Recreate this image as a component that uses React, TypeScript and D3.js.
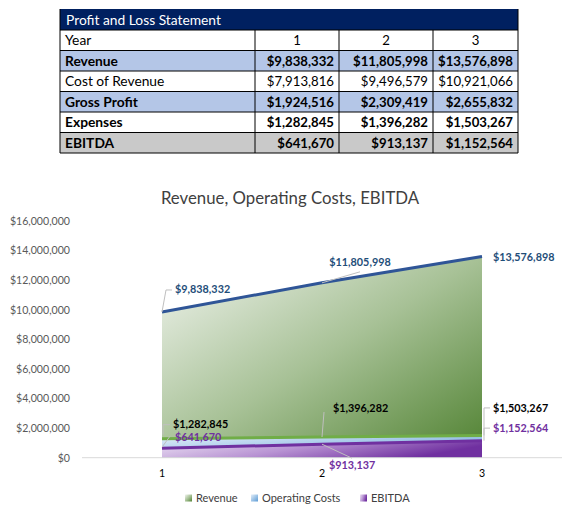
import { useMemo } from 'react';
import * as d3 from 'd3';

// table data
const years = ['1', '2', '3'];
const revenue = [9838332, 11805998, 13576898];
const costOfRevenue = [7913816, 9496579, 10921066];
const grossProfit = [1924516, 2309419, 2655832];
const expenses = [1282845, 1396282, 1503267];
const ebitda = [641670, 913137, 1152564];

const yTicks = [0, 2e6, 4e6, 6e6, 8e6, 10e6, 12e6, 14e6, 16e6];
const seriesNames = ['Revenue', 'Operating Costs', 'EBITDA'];

const FONT = 'Lato, "DejaVu Sans", sans-serif';
const money = (v: number) => '$' + d3.format(',')(v);

type Row = { label: string; values: string[]; fill: string; bold: boolean; center?: boolean };

const rows: Row[] = [
  { label: 'Year', values: years, fill: '#ffffff', bold: false, center: true },
  { label: 'Revenue', values: revenue.map(money), fill: '#b4c6e7', bold: true },
  { label: 'Cost of Revenue', values: costOfRevenue.map(money), fill: '#ffffff', bold: false },
  { label: 'Gross Profit', values: grossProfit.map(money), fill: '#b4c6e7', bold: true },
  { label: 'Expenses', values: expenses.map(money), fill: '#ffffff', bold: true },
  { label: 'EBITDA', values: ebitda.map(money), fill: '#c9c9c9', bold: true },
];

const PLTable = () => {
  const colX = [60, 255, 339, 433, 518];
  const top = 9;
  const titleH = 21;
  const rowH = 20.5;
  return (
    <g fontFamily={FONT} fontSize={13.2}>
      <rect x={colX[0]} y={top} width={colX[4] - colX[0]} height={titleH} fill="#002060" />
      <text x={colX[0] + 6} y={top + 15.5} fill="#ffffff" fontSize={13.8}>
        Profit and Loss Statement
      </text>
      {rows.map((r, i) => {
        const y0 = top + titleH + i * rowH;
        return (
          <g key={r.label}>
            <rect x={colX[0]} y={y0} width={colX[4] - colX[0]} height={rowH} fill={r.fill} />
            <text x={colX[0] + 5} y={y0 + 15.3} fontWeight={r.bold ? 700 : 400} fill="#000" fontSize={13.8}>
              {r.label}
            </text>
            {r.values.map((v, j) => (
              <text
                key={j}
                x={r.center ? (colX[j + 1] + colX[j + 2]) / 2 : colX[j + 2] - 5}
                y={y0 + 15.3}
                textAnchor={r.center ? 'middle' : 'end'}
                fontWeight={r.bold ? 700 : 400}
                fill="#000"
              >
                {v}
              </text>
            ))}
            <line x1={colX[0]} x2={colX[4]} y1={y0} y2={y0} stroke="#000" strokeWidth={1} />
          </g>
        );
      })}
      {colX.map((cx, i) => (
        <line
          key={i}
          x1={cx}
          x2={cx}
          y1={i === 0 || i === 4 ? top : top + titleH}
          y2={top + titleH + rows.length * rowH}
          stroke="#000"
          strokeWidth={1}
        />
      ))}
      <line
        x1={colX[0]}
        x2={colX[4]}
        y1={top + titleH + rows.length * rowH}
        y2={top + titleH + rows.length * rowH}
        stroke="#000"
      />
    </g>
  );
};

const Chart = () => {
  const x = useMemo(() => d3.scaleBand().domain(years).range([82, 562]), []);
  const y = useMemo(() => d3.scaleLinear().domain([0, 16e6]).range([457.7, 220.7]), []);
  const px = (i: number) => (x(years[i]) as number) + x.bandwidth() / 2;

  const area = d3
    .area<number>()
    .x((_, i) => px(i))
    .y0(y(0))
    .y1((d) => y(d));
  const line = d3
    .line<number>()
    .x((_, i) => px(i))
    .y((d) => y(d));

  // label placement relative to each point, with leader line points
  const revLabels = revenue.map((v, i) => {
    const X = px(i);
    const Y = y(v);
    if (i === 0)
      return { tx: X + 13, ty: Y - 19, anchor: 'start', leader: [[X, Y], [X + 4, Y - 22], [X + 10, Y - 22]] };
    if (i === 1)
      return { tx: X + 38, ty: Y - 17, anchor: 'middle', leader: [[X, Y], [X + 38, Y - 11]] };
    return { tx: X + 11, ty: Y + 4, anchor: 'start', leader: null };
  });
  const expLabels = expenses.map((v, i) => {
    const X = px(i);
    const Y = y(v);
    if (i === 0)
      return { tx: X + 11, ty: Y - 10.5, anchor: 'start', leader: [[X + 1, Y - 4], [X + 1, Y - 14], [X + 8, Y - 14]] };
    if (i === 1)
      return { tx: X + 11, ty: Y - 25, anchor: 'start', leader: [[X, Y], [X + 2, Y - 25]] };
    return { tx: X + 11, ty: Y - 23.5, anchor: 'start', leader: [[X + 2, Y], [X + 2, Y - 27.5], [X + 8, Y - 27.5]] };
  });
  const ebLabels = ebitda.map((v, i) => {
    const X = px(i);
    const Y = y(v);
    if (i === 0)
      return { tx: X + 13, ty: Y - 7.5, anchor: 'start', leader: [[X, Y - 1], [X + 8, Y - 12]] };
    if (i === 1)
      return { tx: X + 7, ty: Y + 25, anchor: 'start', leader: [[X, Y], [X + 30, Y + 14]] };
    return { tx: X + 11, ty: Y - 8.5, anchor: 'start', leader: [[X + 2, Y], [X + 2, Y - 12.5], [X + 8, Y - 12.5]] };
  });

  const leaderPath = d3.line();

  const labelGroup = (labels: typeof revLabels, values: number[], color: string) =>
    labels.map((l, i) => (
      <g key={i}>
        {l.leader && (
          <path d={leaderPath(l.leader as [number, number][])!} fill="none" stroke="#bfbfbf" strokeWidth={1} />
        )}
        <text
          x={l.tx}
          y={l.ty}
          textAnchor={l.anchor as 'start' | 'middle'}
          fontWeight={700}
          fontSize={10.8}
          fill={color}
        >
          {money(values[i])}
        </text>
      </g>
    ));

  const legendX = [185, 251, 360];
  const legendFills = ['url(#gRev)', 'url(#gOp)', 'url(#gEb)'];

  return (
    <g fontFamily={FONT}>
      <defs>
        <linearGradient id="gRev" x1="0" y1="0" x2="1" y2="1">
          <stop offset="0" stopColor="#f2f5f0" />
          <stop offset="0.5" stopColor="#a7c196" />
          <stop offset="1" stopColor="#4f8130" />
        </linearGradient>
        <linearGradient id="gOp" x1="0" y1="0" x2="1" y2="1">
          <stop offset="0" stopColor="#e3eef9" />
          <stop offset="1" stopColor="#5b9bd5" />
        </linearGradient>
        <linearGradient id="gEb" x1="0" y1="0" x2="1" y2="0.3">
          <stop offset="0" stopColor="#ece3f4" />
          <stop offset="0.5" stopColor="#b893d3" />
          <stop offset="1" stopColor="#7030a0" />
        </linearGradient>
      </defs>

      <text x={290} y={204} textAnchor="middle" fontSize={16.8} fill="#404040">
        Revenue, Operating Costs, EBITDA
      </text>

      {yTicks.map((t) => (
        <text key={t} x={70} y={y(t) + 4} textAnchor="end" fontSize={10.6} fill="#595959">
          {money(t)}
        </text>
      ))}

      <path d={area(revenue)!} fill="url(#gRev)" />
      <path d={area(expenses)!} fill="url(#gOp)" />
      <path d={area(ebitda)!} fill="url(#gEb)" />

      <line x1={82} x2={562} y1={y(0)} y2={y(0)} stroke="#d9d9d9" strokeWidth={1} />
      {years.map((yr, i) => (
        <text key={yr} x={px(i)} y={477} textAnchor="middle" fontSize={10.6} fill="#000">
          {yr}
        </text>
      ))}

      <path d={line(revenue)!} fill="none" stroke="#2f5597" strokeWidth={3} />
      <path d={line(expenses)!} fill="none" stroke="#70ad47" strokeWidth={3} />
      <path d={line(ebitda)!} fill="none" stroke="#7030a0" strokeWidth={3} />

      {labelGroup(revLabels, revenue, '#1f4e79')}
      {labelGroup(expLabels, expenses, '#000000')}
      {labelGroup(ebLabels, ebitda, '#7030a0')}

      {seriesNames.map((s, i) => (
        <g key={s}>
          <rect x={legendX[i]} y={494.5} width={7} height={7} fill={legendFills[i]} />
          <text x={legendX[i] + 11} y={502} fontSize={11} fill="#404040">
            {s}
          </text>
        </g>
      ))}
    </g>
  );
};

export default function App() {
  return (
    <div style={{ position: 'absolute', left: 0, top: 0 }}>
      <svg width={580} height={524} style={{ display: 'block', background: '#fff' }}>
        <PLTable />
        <Chart />
      </svg>
    </div>
  );
}
